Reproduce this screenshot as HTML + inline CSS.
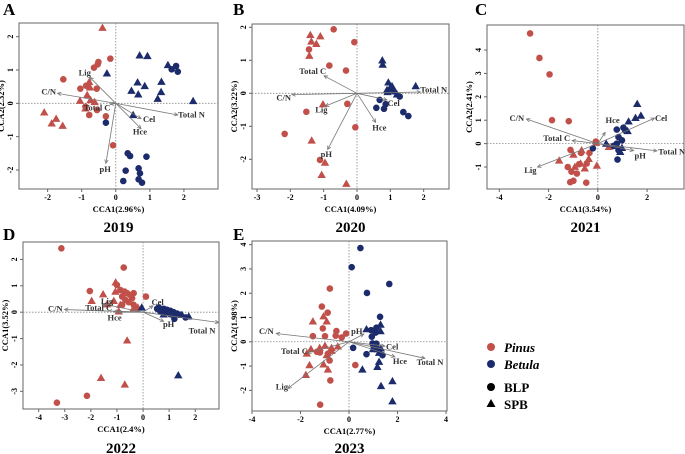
<!DOCTYPE html>
<html><head><meta charset="utf-8"><style>
body{margin:0;background:#fff}
svg{display:block;font-family:"Liberation Serif",serif}
</style></head><body>
<svg id="fig" width="685" height="454" viewBox="0 0 685 454"></svg>
<script>
// ---- Panel A (2019)
const aRedCircles=[[-0.16,1.34],[-0.51,1.24],[-0.53,1.17],[-0.64,1.07],[-1.54,0.72],[-1.04,0.44],[-0.87,0.53],[-0.56,0.44],[-0.89,-0.1],[-0.55,-0.2],[-0.78,-0.35],[-0.29,-0.39],[-0.08,-1.26]];
const aRedTriangles=[[-0.39,2.27],[-2.1,-0.27],[-1.75,-0.46],[-1.88,-0.6],[-1.56,-0.67],[-1.05,0.08],[-0.78,0.64],[-0.76,0.48],[-0.84,0.25],[-0.74,0.1],[-0.62,0.04],[-0.89,-0.15]];
const aBlueCircles=[[-0.29,-0.58],[1.77,1.12],[1.64,1.02],[1.82,0.95],[0.35,-1.5],[0.42,-1.58],[0.9,-1.6],[0.67,-1.95],[0.71,-2.1],[0.29,-2.02],[0.67,-2.28],[0.77,-2.38],[0.22,-2.33]];
const aBlueTriangles=[[0.7,1.44],[0.93,1.42],[-0.26,0.9],[1.53,1.15],[1.34,0.65],[0.64,0.63],[0.85,0.52],[0.46,0.38],[0.66,0.27],[1.33,0.34],[1.23,0.14],[2.27,0.07],[0.51,-0.35]];
const aArrowNames=["Lig","C/N","Total C","Total N","Cel","Hce","pH"];
const aArrowEnds=[[-0.76,0.78],[-1.71,0.3],[-0.16,-0.03],[1.82,-0.35],[0.74,-0.46],[0.74,-0.76],[-0.29,-1.8]];
const aLabelPos=[[-0.91,0.92],[-1.97,0.35],[-0.55,-0.13],[2.22,-0.33],[0.98,-0.47],[0.71,-0.85],[-0.31,-1.97]];
const aXTicks=[-2,-1,0,1,2], aYTicks=[-2,-1,0,1,2];
// ---- Panel B (2020)
const bRedCircles=[[-0.7,1.94],[-0.08,1.55],[-1.44,1.33],[-0.83,0.84],[-0.33,0.69],[-0.29,-0.32],[-1.52,-0.56],[-0.05,-1.03],[-2.17,-1.23],[-1.11,-2.02]];
const bRedTriangles=[[-1.4,1.77],[-1.1,1.73],[-1.37,1.57],[-1.22,1.5],[-1.43,1.14],[-1.02,-0.33],[-1.36,-1.43],[-0.96,-2.1],[-1.06,-2.47],[-0.32,-2.74]];
const bBlueCircles=[[0.68,-0.2],[0.86,-0.33],[0.58,-0.44],[0.81,-0.47],[1.28,-0.1],[1.39,-0.57],[1.54,-0.69],[1.1,0.06]];
const bBlueTriangles=[[0.76,1.0],[0.77,0.87],[0.94,0.33],[1.05,0.22],[0.99,0.16],[0.9,0.1],[1.2,-0.03],[1.76,0.22],[0.92,0.04]];
const bArrowNames=["Total C","C/N","Lig","pH","Hce","Cel","Total N"];
const bArrowEnds=[[-0.99,0.53],[-1.95,-0.04],[-0.95,-0.39],[-0.88,-1.7],[0.56,-0.88],[0.9,-0.2],[1.9,0.04]];
const bLabelPos=[[-1.33,0.67],[-2.2,-0.13],[-1.07,-0.49],[-0.92,-1.84],[0.67,-1.03],[1.1,-0.29],[2.3,0.12]];
const bXTicks=[-3,-2,-1,0,1,2], bYTicks=[-2,-1,0,1,2];
// ---- Panel C (2021)
const cRedCircles=[[-2.75,4.71],[-2.37,3.66],[-1.96,2.96],[-1.86,1.0],[-1.18,0.96],[-1.11,-0.27],[-0.68,-0.4],[-0.34,-0.4],[-1.22,-1.0],[-1.07,-1.2],[-0.85,-1.28],[-1.12,-1.65],[-0.99,-1.59],[-0.47,-1.67],[-0.45,-0.85],[-0.76,-0.88],[-0.08,0.09]];
const cRedTriangles=[[-1.57,-0.72],[-0.99,-0.47],[-0.66,-0.28],[-0.93,-0.99],[-0.7,-0.85],[-0.37,-0.65],[-0.53,-1.06],[-0.04,-0.94],[0.45,-0.14],[-0.07,0.04]];
const cBlueCircles=[[-0.2,-0.2],[0.77,0.6],[1.04,0.68],[1.11,0.57],[0.84,0.28],[0.77,0],[0.84,-0.28],[0.8,-0.68],[0.98,0.14],[0.64,-0.1]];
const cBlueTriangles=[[1.6,1.7],[1.75,1.2],[1.53,1.1],[1.25,0.95],[1.21,0.54],[0.34,0],[0.77,-0.09],[0.98,-0.18],[0.91,-0.35]];
const cArrowNames=["C/N","Hce","Cel","Total C","Total N","pH","Lig"];
const cArrowEnds=[[-2.9,1.05],[0.3,0.48],[2.3,1.09],[-1.04,0.13],[2.4,-0.31],[1.45,-0.3],[-2.45,-1.0]];
const cLabelPos=[[-3.29,1.1],[0.6,1.02],[2.57,1.1],[-1.67,0.23],[3.0,-0.34],[1.72,-0.5],[-2.74,-1.13]];
const cXTicks=[-4,-2,0,2], cYTicks=[-1,0,1,2,3,4];
// ---- Panel D (2022)
const dRedCircles=[[-3.13,2.42],[-0.74,1.69],[-2.04,0.8],[0.11,0.59],[-3.3,-3.43],[-2.15,-3.17],[-1,1.03],[-0.87,0.84],[-0.71,0.78],[-0.61,0.72],[-0.49,0.65],[-0.36,0.72],[-0.8,0.59],[-0.42,0.53],[-0.68,0.47],[-0.55,0.38],[-0.8,0.28],[-0.36,0.28]];
const dRedTriangles=[[-1.97,0.43],[-1.53,0.68],[-1.05,1.13],[-1.12,0.43],[-1.38,0.3],[-0.87,0.28],[-0.93,0.03],[-0.36,0.15],[-0.2,0.18],[-1.61,-2.49],[-0.61,-1.07],[-0.7,-2.74],[-1.06,0.78]];
const dBlueCircles=[[0.6,0.18],[0.79,0.13],[0.92,0.09],[1.05,0.05],[1.17,0],[1.3,-0.05],[1.43,-0.1],[1.63,-0.2],[1.2,-0.25],[0.86,-0.04],[0.66,0.03],[1.05,-0.08],[0.54,0.13]];
const dBlueTriangles=[[-0.05,0.18],[1.35,-2.39],[0.92,0.05],[1.17,-0.04],[1.49,-0.1],[1.75,-0.16],[0.79,-0.08]];
const dArrowNames=["C/N","Lig","Total C","Hce","Cel","pH","Total N"];
const dArrowEnds=[[-3.01,0.1],[-1.55,0.31],[-1.12,0.03],[-0.97,0],[0.38,0.24],[0.79,-0.35],[2.9,-0.39]];
const dLabelPos=[[-3.36,0.13],[-1.38,0.43],[-1.7,0.18],[-1.09,-0.21],[0.56,0.38],[0.98,-0.45],[2.26,-0.7]];
const dXTicks=[-4,-3,-2,-1,0,1,2], dYTicks=[-3,-2,-1,0,1,2];
// ---- Panel E (2023)
const eRedCircles=[[-0.79,2.19],[-1.12,1.45],[-0.88,1.2],[-1.08,0.55],[-0.52,0.44],[-0.55,0.25],[-0.3,0.18],[-0.12,0.34],[-1.49,0.23],[-0.99,0.23],[-1.2,-0.44],[-1.32,-0.41],[-0.77,-1.59],[0.26,-0.96],[-1.19,-2.59],[-0.8,-0.77],[-0.87,-0.49]];
const eRedTriangles=[[-1.05,1.05],[-1.49,0.84],[-0.92,0.84],[-1.74,-0.48],[-1.57,-0.3],[-1.21,-0.25],[-0.99,-0.16],[-0.72,-0.25],[-0.72,-0.37],[-0.92,-0.55],[-1.05,-0.93],[-0.87,-1.14],[-1.63,-0.96],[-1.78,-1.36],[-0.46,-0.19]];
const eBlueCircles=[[0.47,3.86],[0.11,3.07],[1.66,2.38],[0.74,2.01],[1.28,1.03],[0.91,0.48],[1.13,0.58],[1.1,0.38],[0.94,0.21],[0.17,-0.25],[0.72,-0.51],[0.97,-0.07],[1.13,-0.08],[1.38,-0.55],[1.02,-0.22]];
const eBlueTriangles=[[0.72,0.52],[1.3,0.71],[1.3,0.44],[0.99,-0.3],[1.2,-0.3],[1.31,-0.27],[1.24,-0.45],[1.24,-0.82],[1.17,-1.03],[0.55,-1.14],[1.32,-1.82],[1.79,-1.62],[1.79,-2.45]];
const eArrowNames=["C/N","pH","Lig","Total C","Cel","Hce","Total N"];
const eArrowEnds=[[-3.0,0.34],[0.61,0.32],[-2.52,-1.92],[-1.71,-0.45],[1.48,-0.18],[1.89,-0.62],[3.13,-0.68]];
const eLabelPos=[[-3.41,0.44],[0.32,0.44],[-2.77,-1.85],[-2.25,-0.38],[1.78,-0.19],[2.1,-0.79],[3.34,-0.84]];
const eXTicks=[-4,-2,0,2,4], eYTicks=[-2,-1,0,1,2,3,4];

const RED="#c1504a", BLUE="#1c2b6b", NS="http://www.w3.org/2000/svg";
const svg=document.getElementById('fig');
function mk(tag,attrs,parent,text){const e=document.createElementNS(NS,tag);for(const k in attrs)e.setAttribute(k,attrs[k]);if(text!==undefined)e.textContent=text;(parent||svg).appendChild(e);return e;}

const panels=[
 {id:"a",letter:"A",year:"2019",xt:"CCA1(2.96%)",yt:"CCA2(2.32%)",box:[19,23,218,189],xr:[-2.84,3.0],yr:[-2.57,2.41],xT:aXTicks,yT:aYTicks,rc:aRedCircles,rt:aRedTriangles,bc:aBlueCircles,bt:aBlueTriangles,an:aArrowNames,ae:aArrowEnds,lp:aLabelPos,lx:3,ly:15,yearY:232},
 {id:"b",letter:"B",year:"2020",xt:"CCA1(4.09%)",yt:"CCA2(3.22%)",box:[252,24,449,189],xr:[-3.15,2.76],yr:[-2.9,2.1],xT:bXTicks,yT:bYTicks,rc:bRedCircles,rt:bRedTriangles,bc:bBlueCircles,bt:bBlueTriangles,an:bArrowNames,ae:bArrowEnds,lp:bLabelPos,lx:233,ly:15,yearY:232},
 {id:"c",letter:"C",year:"2021",xt:"CCA1(3.54%)",yt:"CCA2(2.41%)",box:[487,25,684,189],xr:[-4.5,3.5],yr:[-1.94,5.07],xT:cXTicks,yT:cYTicks,rc:cRedCircles,rt:cRedTriangles,bc:cBlueCircles,bt:cBlueTriangles,an:cArrowNames,ae:cArrowEnds,lp:cLabelPos,lx:475,ly:15,yearY:232},
 {id:"d",letter:"D",year:"2022",xt:"CCA1(2.4%)",yt:"CCA1(3.52%)",box:[23,242,219,409],xr:[-4.6,2.91],yr:[-3.67,2.66],xT:dXTicks,yT:dYTicks,rc:dRedCircles,rt:dRedTriangles,bc:dBlueCircles,bt:dBlueTriangles,an:dArrowNames,ae:dArrowEnds,lp:dLabelPos,lx:3,ly:240,yearY:453},
 {id:"e",letter:"E",year:"2023",xt:"CCA1(2.77%)",yt:"CCA2(1.98%)",box:[252,241,447,411],xr:[-4.0,4.04],yr:[-2.85,4.15],xT:eXTicks,yT:eYTicks,rc:eRedCircles,rt:eRedTriangles,bc:eBlueCircles,bt:eBlueTriangles,an:eArrowNames,ae:eArrowEnds,lp:eLabelPos,lx:233,ly:240,yearY:453}
];

function tri(g,x,y,c){const s=4.2;const p=mk('polygon',{points:`${x},${y-s} ${x-s},${y+s*0.75} ${x+s},${y+s*0.75}`,fill:c},g);return p;}

panels.forEach(P=>{
 const [L,T,R,B]=P.box;
 const sx=v=>L+(v-P.xr[0])/(P.xr[1]-P.xr[0])*(R-L);
 const sy=v=>B-(v-P.yr[0])/(P.yr[1]-P.yr[0])*(B-T);
 const g=mk('g',{});
 
 
 const lt=mk('text',{x:P.lx,y:P.ly,'font-size':17,'font-weight':'bold'},g,P.letter);
 
 
 const fr=mk('rect',{x:L,y:T,width:R-L,height:B-T,fill:'none',stroke:'#666','stroke-width':1},g);
 
 
 const zx=mk('line',{x1:L,x2:R,y1:sy(0),y2:sy(0),stroke:'#888','stroke-width':0.8,'stroke-dasharray':'1.5,1.5'},g);
 
 
 const zy=mk('line',{x1:sx(0),x2:sx(0),y1:T,y2:B,stroke:'#888','stroke-width':0.8,'stroke-dasharray':'1.5,1.5'},g);
 
 
 P.xT.forEach(t=>{const x=sx(t);mk('line',{x1:x,x2:x,y1:B,y2:B+3,stroke:'#666'},g);
  const tx=mk('text',{x:x,y:B+11,'font-size':8,'text-anchor':'middle','font-weight':'bold'},g,t);
  
  });
 P.yT.forEach(t=>{const y=sy(t);mk('line',{x1:L-3,x2:L,y1:y,y2:y,stroke:'#666'},g);
  const tx=mk('text',{x:L-6,y:y,'font-size':8,'text-anchor':'middle','font-weight':'bold',transform:`rotate(-90 ${L-6} ${y})`},g,t);
  
  });
 const xt=mk('text',{x:(L+R)/2,y:B+23,'font-size':8.5,'text-anchor':'middle','font-weight':'bold'},g,P.xt);
 
 
 const yx=L-15,yy=(T+B)/2;
 const yt=mk('text',{x:yx,y:yy,'font-size':8.5,'text-anchor':'middle','font-weight':'bold',transform:`rotate(-90 ${yx} ${yy})`},g,P.yt);
 
 
 const yr=mk('text',{x:(L+R)/2,y:P.yearY,'font-size':15,'text-anchor':'middle','font-weight':'bold'},g,P.year);
 
 
 P.rc.forEach(d=>{const c=mk('circle',{cx:sx(d[0]),cy:sy(d[1]),r:3.3,fill:RED},g);
  
  });
 P.rt.forEach(d=>{const c=tri(g,sx(d[0]),sy(d[1]),RED);
  
  });
 P.bc.forEach(d=>{const c=mk('circle',{cx:sx(d[0]),cy:sy(d[1]),r:3.3,fill:BLUE},g);
  
  });
 P.bt.forEach(d=>{const c=tri(g,sx(d[0]),sy(d[1]),BLUE);
  
  });
 const ox=sx(0),oy=sy(0);
 P.ae.forEach((e,i)=>{const x=sx(e[0]),y=sy(e[1]);
  const a=mk('line',{x1:ox,y1:oy,x2:x,y2:y,stroke:'#777','stroke-width':0.8},g);
  
  
  const ang=Math.atan2(y-oy,x-ox),h=4;
  mk('polyline',{points:`${x-h*Math.cos(ang-0.45)},${y-h*Math.sin(ang-0.45)} ${x},${y} ${x-h*Math.cos(ang+0.45)},${y-h*Math.sin(ang+0.45)}`,fill:'none',stroke:'#777','stroke-width':0.8},g);
  const lb=mk('text',{x:sx(P.lp[i][0]),y:sy(P.lp[i][1])+3,'font-size':8.5,'text-anchor':'middle','font-weight':'bold',fill:'#333'},g,P.an[i]);
  
  });
});

// legend
const lg=mk('g',{'font-size':13,'font-weight':'bold'});


const l1=mk('circle',{cx:491,cy:347,r:4,fill:RED},lg);
mk('text',{x:504,y:352,'font-style':'italic',fill:'#000'},lg,'Pinus');
mk('circle',{cx:491,cy:364,r:4,fill:BLUE},lg);
mk('text',{x:504,y:369,'font-style':'italic'},lg,'Betula');
mk('circle',{cx:491,cy:387,r:4,fill:'#000'},lg);
mk('text',{x:504,y:392},lg,'BLP');
mk('polygon',{points:'491,399 486.5,407 495.5,407',fill:'#000'},lg);
mk('text',{x:504,y:409},lg,'SPB');
</script>
</body></html>
